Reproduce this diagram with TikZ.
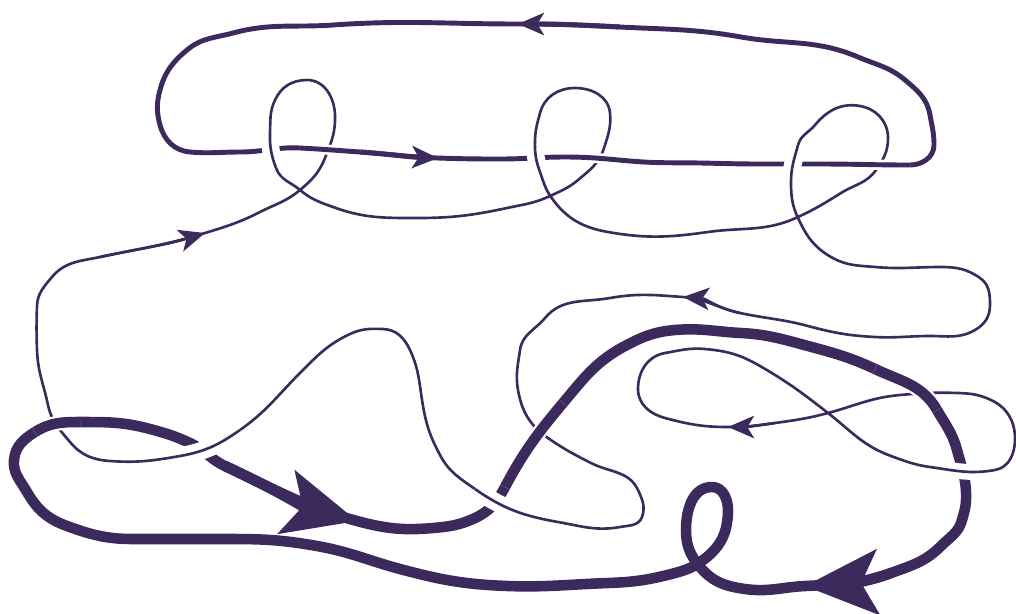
\documentclass[tikz,border=0pt]{standalone}
\usepackage{tikz}
\usetikzlibrary{arrows.meta}
\definecolor{ink}{RGB}{60,42,92}

\begin{document}
\begin{tikzpicture}[x=0.02cm, y=0.02cm, line join=round,
  thinline/.style={draw=ink, line width=1.5pt},
  midline/.style={draw=ink, line width=2.8pt},
  fatline/.style={draw=ink, line width=6pt},
  overpass/.style={preaction={draw=white, line width=#1}},
  smallarr/.style={-{Stealth[length=15pt, width=13pt, inset=4pt, line width=0pt]}},
  bigarr/.style={-{Stealth[length=42pt, width=38pt, inset=10pt, line width=0pt]}}]
  \useasboundingbox (0,0) rectangle (1016,-613);

  % top band
  \draw[midline] (518,-24) to[out=180,in=4] (333,-25) to[out=184,in=15] (233,-33)
    to[out=195,in=40] (187,-50) to[out=220,in=75] (160,-90) to[out=255,in=105] (160,-125)
    to[out=285,in=175] (190,-152) to[out=355,in=180] (240,-152) to[out=0,in=177] (300,-148)
    to[out=357,in=176] (360,-152) to[out=356,in=178] (438,-158) to[out=358,in=180] (500,-159)
    to[out=0,in=180] (565,-157) to[out=0,in=175] (630,-161) to[out=355,in=179] (700,-163)
    to[out=359,in=180] (760,-164) to[out=0,in=180] (820,-164) to[out=0,in=180] (910,-165)
    to[out=0,in=270] (934,-145) to[out=90,in=280] (930,-115) to[out=100,in=320] (905,-80)
    to[out=140,in=337] (858,-57) to[out=157,in=350] (741,-37) to[out=170,in=357] (620,-27)
    to[out=177,in=0] (518,-24);

  % long thin strand
  \draw[thinline] (37,-306) to[out=88,in=230] (52,-277) to[out=50,in=192] (100,-257)
    to[out=12,in=197] (205,-233) to[out=17,in=207] (260,-212) to[out=27,in=220] (300,-190)
    to[out=40,in=248] (325,-158) to[out=68,in=272] (335,-115) to[out=92,in=0] (307,-80)
    to[out=180,in=65] (275,-100) to[out=245,in=88] (270,-133) to[out=268,in=110] (276,-168)
    to[out=290,in=140] (300,-190) to[out=320,in=160] (333,-207) to[out=340,in=180] (417,-218)
    to[out=0,in=192] (507,-208) to[out=12,in=205] (550,-196) to[out=25,in=220] (578,-180)
    to[out=40,in=252] (604,-148) to[out=72,in=275] (610,-113) to[out=95,in=0] (575,-88)
    to[out=180,in=75] (540,-113) to[out=255,in=88] (535,-140) to[out=268,in=110] (540,-172)
    to[out=290,in=125] (551,-197) to[out=305,in=170] (608,-232) to[out=350,in=188] (708,-232)
    to[out=8,in=205] (798,-217) to[out=25,in=212] (841,-193) to[out=32,in=235] (876,-170)
    to[out=55,in=270] (888,-138) to[out=90,in=350] (860,-106) to[out=170,in=50] (815,-125)
    to[out=230,in=75] (798,-145) to[out=255,in=90] (791,-182) to[out=270,in=115] (798,-218)
    to[out=295,in=150] (831,-257) to[out=330,in=175] (875,-267) to[out=355,in=180] (941,-267)
    to[out=0,in=145] (980,-278) to[out=325,in=90] (990,-305) to[out=270,in=30] (975,-330)
    to[out=210,in=0] (930,-336) to[out=180,in=357] (875,-337) to[out=177,in=345] (808,-326)
    to[out=165,in=348] (740,-313) to[out=168,in=356] (683,-297) to[out=176,in=10] (610,-298)
    to[out=190,in=50] (545,-318) to[out=230,in=82] (520,-350) to[out=262,in=100] (518,-390)
    to[out=280,in=145] (548,-438) to[out=325,in=153] (591,-463) to[out=333,in=115] (638,-490)
    to[out=295,in=70] (642,-517) to[out=250,in=10] (620,-527) to[out=190,in=350] (558,-522)
    to[out=170,in=325] (475,-489) to[out=145,in=298] (440,-455) to[out=118,in=280] (423,-406)
    to[out=100,in=295] (410,-350) to[out=115,in=358] (383,-329) to[out=178,in=25] (350,-334)
    to[out=205,in=45] (300,-373) to[out=225,in=35] (240,-430) to[out=215,in=10] (180,-456)
    to[out=190,in=356] (110,-461) to[out=176,in=310] (70,-442) to[out=130,in=282] (48,-405)
    to[out=102,in=272] (37,-350) to[out=92,in=268] (37,-306);

  % figure eight
  \draw[thinline] (775,-423) to[out=188,in=0] (728,-427) to[out=180,in=345] (665,-418)
    to[out=165,in=270] (638,-389) to[out=90,in=190] (665,-353) to[out=10,in=175] (705,-349)
    to[out=355,in=150] (760,-366) to[out=330,in=142] (828,-413) to[out=322,in=160] (891,-456)
    to[out=340,in=172] (930,-467) to[out=352,in=190] (995,-470) to[out=10,in=270] (1015,-439)
    to[out=90,in=335] (991,-400) to[out=155,in=358] (958,-393) to[out=178,in=5] (900,-395)
    to[out=185,in=15] (828,-413) to[out=195,in=8] (775,-423);

  % thick strand
  \draw[fatline] (225,-466) to[out=335,in=165] (357,-521) to[out=345,in=185] (433,-528)
    to[out=5,in=205] (475,-518) to[out=25,in=242] (505,-487) to[out=62,in=230] (563,-403)
    to[out=50,in=208] (625,-346) to[out=28,in=185] (675,-330) to[out=5,in=177] (741,-333)
    to[out=357,in=165] (808,-346) to[out=345,in=155] (875,-369) to[out=335,in=120] (937,-410)
    to[out=300,in=105] (957,-450) to[out=285,in=88] (966,-500) to[out=268,in=75] (962,-520)
    to[out=255,in=45] (941,-546) to[out=225,in=20] (891,-573) to[out=200,in=3] (805,-586)
    to[out=183,in=352] (745,-589) to[out=172,in=310] (700,-567) to[out=130,in=270] (686,-530)
    to[out=90,in=180] (712,-487) to[out=0,in=88] (728,-512) to[out=268,in=40] (707,-557)
    to[out=220,in=15] (675,-573) to[out=195,in=2] (608,-583) to[out=182,in=358] (508,-586)
    to[out=178,in=345] (400,-569) to[out=165,in=350] (317,-546) to[out=170,in=0] (233,-539)
    to[out=180,in=0] (133,-539) to[out=180,in=340] (67,-526) to[out=160,in=300] (27,-492)
    to[out=120,in=265] (14,-460) to[out=85,in=212] (35,-432) to[out=32,in=180] (80,-422)
    to[out=0,in=165] (150,-429) to[out=345,in=155] (190,-443) to[out=335,in=155] (225,-466);

  % arrow heads
  \draw[midline, smallarr] (620,-27) to[out=177,in=0] (518,-24);
  \draw[midline, smallarr] (360,-152) to[out=356,in=178] (438,-158);
  \draw[thinline, smallarr] (100,-257) to[out=12,in=197] (205,-233);
  \draw[thinline, smallarr] (740,-313) to[out=168,in=356] (683,-297);
  \draw[thinline, smallarr] (775,-423) to[out=188,in=0] (728,-427);
  \draw[fatline, bigarr] (225,-466) to[out=335,in=165] (357,-521);
  \draw[fatline, bigarr] (891,-573) to[out=200,in=3] (805,-586);

  % crossings
  \draw[midline, overpass=5.8pt] (300,-148) to[out=357,in=176] (360,-152);
  \draw[midline, overpass=5.8pt] (565,-157) to[out=0,in=175] (630,-161);
  \draw[midline, overpass=5.8pt] (820,-164) to[out=0,in=180] (910,-165);
  \draw[thinline, overpass=10pt] (270,-133) to[out=268,in=110] (276,-168);
  \draw[thinline, overpass=10pt] (535,-140) to[out=268,in=110] (540,-172);
  \draw[thinline, overpass=10pt] (798,-145) to[out=255,in=90] (791,-182);
  \draw[fatline, overpass=8.5pt] (505,-487) to[out=62,in=230] (563,-403);
  \draw[fatline, overpass=8.5pt] (35,-432) to[out=32,in=180] (80,-422);
  \draw[fatline, overpass=8.5pt] (875,-369) to[out=335,in=120] (937,-410);
  \draw[thinline, overpass=10pt] (558,-522) to[out=170,in=325] (475,-489);
  \draw[thinline, overpass=10pt] (240,-430) to[out=215,in=10] (180,-456);
  \draw[thinline, overpass=9pt] (930,-467) to[out=352,in=190] (995,-470);
\end{tikzpicture}
\end{document}
